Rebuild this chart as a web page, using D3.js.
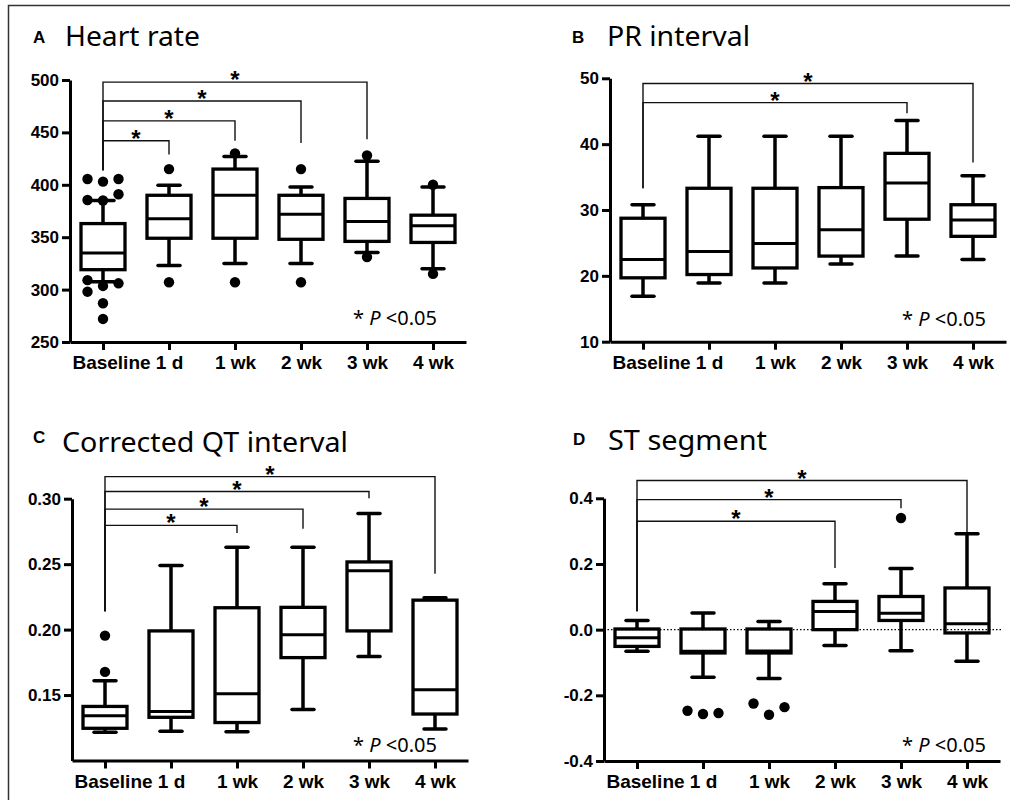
<!DOCTYPE html>
<html>
<head>
<meta charset="utf-8">
<script src="https://cdn.jsdelivr.net/npm/d3@7"></script>
<style>
  body { margin: 0; background: #fff; }
  svg { display: block; }
  .axis path, .axis line { stroke: #000; stroke-width: 3; }
  .axis text { font-family: "Liberation Sans", Arial, sans-serif; font-weight: bold; fill: #000; }
</style>
</head>
<body>
<svg id="chart" width="1010" height="800"></svg>
<script>
// Shared categories
const categories = ['Baseline', '1 d', '1 wk', '2 wk', '3 wk', '4 wk'];

// Box stats per category: [low whisker, Q1, median, Q3, high whisker]
const hrStats = [
  [307.5, 319, 335, 363, 385],
  [323, 349, 367.5, 390, 399.5],
  [325, 349, 390, 415, 427],
  [325, 348, 372, 390, 398],
  [335.5, 346, 365, 387, 422.5],
  [320, 345, 361, 371, 398]
];
const prStats = [
  [16.9, 19.7, 22.5, 28.75, 30.8],
  [18.9, 20.2, 23.7, 33.3, 41.2],
  [18.9, 21.2, 24.9, 33.3, 41.2],
  [21.8, 23.0, 27.0, 33.4, 41.2],
  [23.0, 28.6, 34.1, 38.6, 43.6],
  [22.5, 26.0, 28.5, 30.8, 35.2]
];
const qtStats = [
  [0.1216, 0.1246, 0.1342, 0.1413, 0.1609],
  [0.1223, 0.133, 0.1375, 0.199, 0.249],
  [0.122, 0.129, 0.151, 0.2167, 0.263],
  [0.139, 0.1786, 0.196, 0.217, 0.263],
  [0.1794, 0.199, 0.245, 0.2517, 0.2887],
  [0.124, 0.1355, 0.154, 0.2225, 0.2243]
];
const stStats = [
  [-0.066, -0.051, -0.025, 0.002, 0.028],
  [-0.145, -0.071, -0.066, 0.002, 0.051],
  [-0.149, -0.071, -0.065, 0.002, 0.025],
  [-0.048, 0.0, 0.055, 0.086, 0.14],
  [-0.064, 0.028, 0.05, 0.101, 0.186],
  [-0.096, -0.01, 0.018, 0.127, 0.292]
];

// Outliers: [category index, value, slot (-1 left, 0 centre, 1 right)]
const hrOutliers = [
  [0, 405.5, -1], [0, 403, 0], [0, 405.5, 1],
  [0, 385.5, -1], [0, 385, 0], [0, 391, 1],
  [0, 309, -1], [0, 298, -1], [0, 303.5, 0], [0, 306, 1],
  [0, 287, 0], [0, 272, 0],
  [1, 415, 0], [1, 307, 0],
  [2, 430, 0], [2, 307, 0],
  [3, 415, 0], [3, 307, 0],
  [4, 428, 0], [4, 331, 0],
  [5, 400, 0], [5, 315, 0]
];
const prOutliers = [];
const qtOutliers = [[0, 0.1954, 0], [0, 0.1677, 0]];
const stOutliers = [
  [1, -0.247, -1], [1, -0.257, 0], [1, -0.254, 1],
  [2, -0.225, -1], [2, -0.259, 0], [2, -0.236, 1],
  [4, 0.34, 0]
];

// Significance brackets vs Baseline: [target index, bar value, baseline drop, target drop]
const hrBrackets = [[1, 442, 414, 429], [2, 461, 414, 442], [3, 480, 414, 440], [4, 498, 414, 443.5]];
const prBrackets = [[4, 46.3, 33.3, 44.7], [5, 49.2, 33.3, 37.2]];
const qtBrackets = [[2, 0.2796, 0.214, 0.2738], [3, 0.292, 0.214, 0.277], [4, 0.3055, 0.214, 0.3004], [5, 0.3169, 0.214, 0.2426]];
const stBrackets = [[3, 0.33, 0.056, 0.188], [4, 0.396, 0.056, 0.37], [5, 0.454, 0.056, 0.294]];

// Tick values
const hrTicks = [250, 300, 350, 400, 450, 500];
const prTicks = [10, 20, 30, 40, 50];
const qtTicks = [0.15, 0.20, 0.25, 0.30];
const stTicks = [-0.4, -0.2, 0, 0.2, 0.4];

const panels = [
  { letter: 'A', title: 'Heart rate', titleLen: 135, letterX: 33, letterY: 43, titleX: 65, titleY: 45.5,
    stats: hrStats, outliers: hrOutliers, brackets: hrBrackets, domain: [250, 500], ticks: hrTicks,
    fmt: d => d.toFixed(0), left: 70, top: 80, bottom: 342, noteX: 353, noteY: 325 },
  { letter: 'B', title: 'PR interval', titleLen: 143, letterX: 572, letterY: 43, titleX: 607, titleY: 45.5,
    stats: prStats, outliers: prOutliers, brackets: prBrackets, domain: [10, 50], ticks: prTicks,
    fmt: d => d.toFixed(0), left: 610, top: 78.3, bottom: 341.7, noteX: 902, noteY: 326 },
  { letter: 'C', title: 'Corrected QT interval', titleLen: 286, letterX: 33, letterY: 443, titleX: 62, titleY: 451.5,
    stats: qtStats, outliers: qtOutliers, brackets: qtBrackets, domain: [0.10, 0.30], ticks: qtTicks,
    fmt: d => d.toFixed(2), left: 72, top: 498.7, bottom: 760.5, noteX: 353, noteY: 752 },
  { letter: 'D', title: 'ST segment', titleLen: 159, letterX: 573, letterY: 445, titleX: 608, titleY: 450,
    stats: stStats, outliers: stOutliers, brackets: stBrackets, domain: [-0.4, 0.4], ticks: stTicks,
    fmt: d => d.toFixed(1), left: 604, top: 498.3, bottom: 761, noteX: 902, noteY: 752, zeroLine: true }
];

const svg = d3.select('#chart');
const plotW = 396;
const boxW = 44;
const capW = 22;
const slotGap = 15.5;

// Outer frame (top and left edges only)
svg.append('path')
  .attr('d', 'M8.5,800V5.5H1010')
  .attr('fill', 'none')
  .attr('stroke', '#333')
  .attr('stroke-width', 1.5);

panels.forEach(drawPanel);

function drawPanel(p) {
  const g = svg.append('g');

  const x = d3.scalePoint()
    .domain(categories)
    .range([p.left, p.left + plotW])
    .padding(0.5);

  const y = d3.scaleLinear()
    .domain(p.domain)
    .range([p.bottom, p.top]);

  // Titles
  g.append('text')
    .attr('x', p.letterX)
    .attr('y', p.letterY)
    .style('font-family', '"Liberation Sans", Arial, sans-serif')
    .style('font-weight', 'bold')
    .style('font-size', '17px')
    .text(p.letter);

  g.append('text')
    .attr('x', p.titleX)
    .attr('y', p.titleY)
    .attr('textLength', p.titleLen)
    .attr('lengthAdjust', 'spacingAndGlyphs')
    .style('font-family', '"Noto Sans", "Open Sans", sans-serif')
    .style('font-size', '28px')
    .text(p.title);

  // Significance brackets
  const bx = x(categories[0]);
  g.append('g')
    .selectAll('path')
    .data(p.brackets)
    .join('path')
    .attr('fill', 'none')
    .attr('stroke', '#111')
    .attr('stroke-width', 1.4)
    .attr('d', d => `M${bx},${y(d[2])}V${y(d[1])}H${x(categories[d[0]])}V${y(d[3])}`);

  g.append('g')
    .selectAll('text')
    .data(p.brackets)
    .join('text')
    .attr('x', d => (bx + x(categories[d[0]])) / 2)
    .attr('y', d => y(d[1]) + 6)
    .attr('text-anchor', 'middle')
    .style('font-family', '"Liberation Sans", Arial, sans-serif')
    .style('font-weight', 'bold')
    .style('font-size', '24px')
    .text('*');

  // Box plots
  const boxes = g.append('g')
    .selectAll('g')
    .data(p.stats)
    .join('g')
    .attr('transform', (d, i) => `translate(${x(categories[i])},0)`);

  boxes.append('line')
    .attr('y1', d => y(d[0]))
    .attr('y2', d => y(d[4]))
    .attr('stroke', '#000')
    .attr('stroke-width', 3.5);

  boxes.selectAll('.cap')
    .data(d => [d[0], d[4]])
    .join('line')
    .attr('class', 'cap')
    .attr('x1', -capW / 2)
    .attr('x2', capW / 2)
    .attr('y1', d => y(d))
    .attr('y2', d => y(d))
    .attr('stroke', '#000')
    .attr('stroke-width', 3.5)
    .attr('stroke-linecap', 'round');

  boxes.append('rect')
    .attr('x', -boxW / 2)
    .attr('width', boxW)
    .attr('y', d => y(d[3]))
    .attr('height', d => y(d[1]) - y(d[3]))
    .attr('fill', '#fff')
    .attr('stroke', '#000')
    .attr('stroke-width', 3.3);

  boxes.append('line')
    .attr('x1', -boxW / 2)
    .attr('x2', boxW / 2)
    .attr('y1', d => y(d[2]))
    .attr('y2', d => y(d[2]))
    .attr('stroke', '#000')
    .attr('stroke-width', 3);

  // Dotted zero reference line
  if (p.zeroLine) {
    g.append('line')
      .attr('x1', p.left)
      .attr('x2', p.left + plotW + 3)
      .attr('y1', y(0))
      .attr('y2', y(0))
      .attr('stroke', '#000')
      .attr('stroke-width', 1.3)
      .attr('stroke-dasharray', '1.5,2');
  }

  // Outliers
  g.append('g')
    .selectAll('circle')
    .data(p.outliers)
    .join('circle')
    .attr('cx', d => x(categories[d[0]]) + d[2] * slotGap)
    .attr('cy', d => y(d[1]))
    .attr('r', 5.2)
    .attr('fill', '#000');

  // Axes
  const yAxis = g.append('g')
    .attr('class', 'axis')
    .attr('transform', `translate(${p.left},0)`)
    .call(d3.axisLeft(y).tickValues(p.ticks).tickFormat(p.fmt).tickSize(8).tickSizeOuter(0).tickPadding(3));
  yAxis.selectAll('text').style('font-size', '17px');

  const xAxis = g.append('g')
    .attr('class', 'axis')
    .attr('transform', `translate(0,${p.bottom})`)
    .call(d3.axisBottom(x).tickSize(8).tickSizeOuter(0).tickPadding(6));
  xAxis.selectAll('text')
    .style('font-size', '19px')
    .attr('dx', d => d === 'Baseline' ? 8 : 0);

  // P-value note
  const note = g.append('text')
    .attr('x', p.noteX)
    .attr('y', p.noteY)
    .style('font-family', '"Noto Sans", "Open Sans", sans-serif')
    .style('font-size', '20px');
  note.append('tspan').text('* ');
  note.append('tspan').style('font-style', 'italic').text('P');
  note.append('tspan').text(' <0.05');
}
</script>
</body>
</html>
